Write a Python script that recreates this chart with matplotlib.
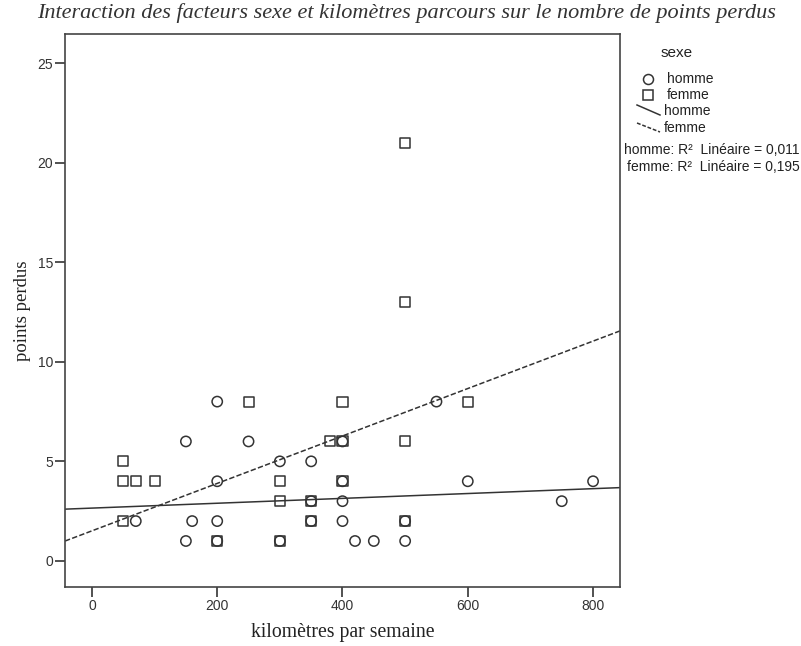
import numpy as np
import matplotlib
matplotlib.use("Agg")
import matplotlib.pyplot as plt
from matplotlib.lines import Line2D

# Data
homme_km = [70, 150, 150, 160, 200, 200, 200, 200, 250, 300, 300, 350, 350, 350,
            400, 400, 400, 400, 420, 450, 500, 500, 550, 600, 750, 800]
homme_pts = [2, 6, 1, 2, 8, 4, 2, 1, 6, 5, 1, 5, 3, 2,
             6, 4, 3, 2, 1, 1, 1, 2, 8, 4, 3, 4]
femme_km = [50, 50, 70, 100, 50, 200, 250, 300, 300, 300, 350, 350, 380, 400,
            400, 400, 500, 500, 500, 500, 600]
femme_pts = [5, 4, 4, 4, 2, 1, 8, 4, 3, 1, 3, 2, 6, 6,
             8, 4, 21, 13, 6, 2, 8]
# fit lines (intercept, slope)
homme_fit = [2.652, 0.00122]
femme_fit = [1.51, 0.01191]
r2_labels = ["homme: R²  Linéaire = 0,011", "femme: R²  Linéaire = 0,195"]
xticks = [0, 200, 400, 600, 800]
yticks = [0, 5, 10, 15, 20, 25]

W, H = 801, 646
fig = plt.figure(figsize=(W / 100, H / 100), dpi=100)
L, R, T, B = 65, 620, 34, 587
ax = fig.add_axes([L / W, 1 - B / H, (R - L) / W, (B - T) / H])

xmin, xmax = -43, 843
ax.set_xlim(xmin, xmax)
ax.set_ylim(-1.31, 26.46)

xs = np.array([xmin, xmax])
ax.plot(xs, homme_fit[0] + homme_fit[1] * xs, color="#333333", lw=1.1, zorder=2)
ax.plot(xs, femme_fit[0] + femme_fit[1] * xs, color="#333333", lw=1.1,
        linestyle=(0, (3.5, 1.5)), zorder=2)

ax.scatter(femme_km, femme_pts, marker="s", s=52, facecolors="none",
           edgecolors="#333333", linewidths=1.1, zorder=3)
ax.scatter(homme_km, homme_pts, marker="o", s=55, facecolors="none",
           edgecolors="#333333", linewidths=1.1, zorder=3)

ax.set_xticks(xticks)
ax.set_yticks(yticks)
tickfont = dict(family="Liberation Sans", size=10)
ax.set_xticklabels([str(t) for t in xticks], **tickfont, color="#333333")
ax.set_yticklabels([str(t) for t in yticks], **tickfont, color="#333333")
ax.tick_params(direction="out", length=7.2, width=1.2, color="#333333", pad=1.5)
for s in ax.spines.values():
    s.set_color("#444444")
    s.set_linewidth(1.2)

ax.set_xlabel("kilomètres par semaine", family="Liberation Serif", size=14.2,
              color="#222222")
ax.xaxis.set_label_coords(0.5, -0.066)
ax.set_ylabel("points perdus", family="Liberation Serif", size=13.5,
              color="#222222")
ax.yaxis.set_label_coords(-0.062, 0.5)

fig.text(407 / W, 1 - 13 / H,
         "Interaction des facteurs sexe et kilomètres parcours sur le nombre de points perdus",
         family="Liberation Serif", style="italic", size=16, color="#333333",
         ha="center", va="center")

# legend drawn manually in figure pixel coordinates
def fx(x):
    return x / W


def fy(y):
    return 1 - y / H


lf = dict(family="Liberation Sans", size=10, color="#222222", va="center")
fig.text(fx(677), fy(53), "sexe", ha="center", **{**lf, "size": 11})
fig.add_artist(Line2D([fx(648)], [fy(79)], marker="o", markersize=7.2,
                      markerfacecolor="none", markeredgecolor="#333333",
                      markeredgewidth=1.1, transform=fig.transFigure))
fig.text(fx(667), fy(79), "homme", ha="left", **lf)
fig.add_artist(Line2D([fx(648)], [fy(95)], marker="s", markersize=6.8,
                      markerfacecolor="none", markeredgecolor="#333333",
                      markeredgewidth=1.1, transform=fig.transFigure))
fig.text(fx(667), fy(95), "femme", ha="left", **lf)
fig.add_artist(Line2D([fx(637), fx(660)], [fy(105), fy(115)], color="#333333",
                      lw=1.1, transform=fig.transFigure))
fig.text(fx(664), fy(111), "homme", ha="left", **lf)
fig.add_artist(Line2D([fx(637), fx(660)], [fy(123), fy(132)], color="#333333",
                      lw=1.1, linestyle=(0, (2.5, 1.2)), transform=fig.transFigure))
fig.text(fx(664), fy(128), "femme", ha="left", **lf)
fig.text(fx(800), fy(150), r2_labels[0], ha="right", **lf)
fig.text(fx(800), fy(167), r2_labels[1], ha="right", **lf)

fig.savefig("out.png", dpi=100)
